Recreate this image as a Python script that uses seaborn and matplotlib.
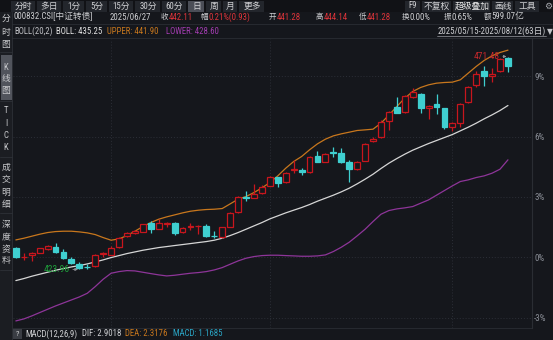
import matplotlib
matplotlib.use("Agg")
import matplotlib.pyplot as plt
import pandas as pd
import seaborn as sns
from matplotlib.patches import Rectangle
from matplotlib.lines import Line2D
from matplotlib import font_manager

sns.set_theme(style="dark")
installed = {f.name for f in font_manager.fontManager.ttflist}
LATIN = [n for n in ("Liberation Sans Narrow", "Roboto Condensed", "DejaVu Sans Condensed")
         if n in installed]
plt.rcParams['font.family'] = LATIN[:1] + ['Noto Sans CJK SC', 'DejaVu Sans']
plt.rcParams['axes.unicode_minus'] = False

# ---- data: 000832.CSI daily bars, 2025/05/15 - 2025/08/12 ----
holidays = ["2025-06-02"]
dates = pd.bdate_range("2025-05-15", "2025-08-12")
dates = dates[~dates.isin(pd.to_datetime(holidays))]

open_ = [428.70, 426.70, 427.20, 427.70, 428.55, 429.05, 427.80, 426.37, 425.19, 424.60,
         424.81, 427.36, 427.20, 428.92, 431.44, 432.05, 432.40, 434.28, 433.07, 434.20,
         434.41, 432.27, 433.50, 433.60, 433.67, 431.50, 431.15, 433.52, 436.73, 440.05,
         439.99, 440.97, 442.67, 444.55, 443.43, 446.20, 446.18, 445.67, 449.31, 448.03,
         450.10, 450.04, 447.90, 446.47, 448.26, 452.59, 453.59, 457.12, 460.18, 459.06,
         462.41, 463.15, 459.96, 460.92, 459.96, 455.71, 456.61, 461.36, 465.16, 468.29,
         467.17, 468.29, 471.12]
high = [428.90, 427.60, 427.80, 428.80, 429.40, 429.80, 428.47, 426.69, 425.57, 425.12,
        427.30, 427.94, 429.21, 431.10, 432.27, 432.78, 434.20, 434.86, 435.17, 434.63,
        434.60, 433.40, 434.28, 433.90, 434.12, 432.56, 433.50, 436.70, 440.30, 441.49,
        443.05, 442.83, 444.80, 444.70, 445.80, 448.41, 446.56, 449.20, 450.49, 449.90,
        451.38, 451.09, 448.41, 448.20, 452.10, 453.48, 457.20, 459.40, 462.41, 462.90,
        464.42, 463.30, 460.60, 463.15, 460.10, 456.80, 461.00, 465.00, 468.35, 469.40,
        468.89, 471.20, 471.48]
low = [426.60, 426.10, 425.90, 427.60, 428.40, 427.70, 426.30, 425.19, 423.96, 424.07,
       424.60, 426.82, 427.10, 428.80, 431.15, 431.82, 432.30, 432.05, 432.90, 433.52,
       431.66, 432.10, 432.78, 431.89, 431.30, 430.93, 431.00, 433.40, 436.60, 439.32,
       439.99, 440.82, 442.50, 442.45, 443.30, 445.44, 445.06, 445.50, 447.90, 447.90,
       449.15, 447.74, 443.57, 446.18, 448.10, 452.40, 453.40, 455.11, 458.80, 458.90,
       462.20, 458.84, 457.50, 458.68, 455.27, 454.95, 455.71, 461.20, 464.65, 465.00,
       465.90, 468.10, 468.13]
close = [426.80, 426.80, 427.60, 428.70, 429.28, 427.80, 426.46, 425.41, 424.37, 424.50,
         427.20, 427.58, 428.69, 430.93, 432.04, 432.60, 434.05, 432.94, 434.28, 434.30,
         432.18, 433.23, 433.60, 433.70, 431.44, 431.40, 433.38, 436.51, 440.08, 439.95,
         440.82, 442.45, 444.55, 443.21, 445.58, 446.30, 445.67, 449.01, 448.03, 449.68,
         450.00, 448.03, 446.34, 448.03, 451.92, 453.03, 456.97, 459.20, 458.97, 462.70,
         463.53, 459.96, 460.47, 460.25, 455.71, 456.61, 460.85, 464.78, 467.55, 467.24,
         467.62, 470.97, 469.47]

# BOLL(20,2) bands
boll_upper = [430.55, 430.92, 431.37, 431.82, 432.19, 432.41, 432.49, 432.49, 432.34, 432.12,
              431.74, 431.07, 430.48, 430.78, 431.52, 432.49, 433.53, 434.42, 435.17, 435.69,
              436.13, 436.58, 436.95, 437.18, 437.33, 437.40, 437.55, 438.59, 439.63, 440.23,
              441.12, 442.16, 443.35, 444.84, 446.55, 448.04, 449.16, 450.65, 451.99, 453.03,
              453.77, 454.22, 454.59, 454.97, 455.11, 455.26, 456.60, 458.39, 460.32, 462.18,
              463.67, 464.57, 465.16, 465.53, 465.68, 465.76, 466.28, 467.77, 469.26, 470.60,
              471.64, 472.38, 472.90]
boll_mid = [421.47, 421.92, 422.44, 422.89, 423.33, 423.78, 424.15, 424.52, 424.82, 425.19,
            425.64, 426.09, 426.61, 427.05, 427.50, 427.87, 428.24, 428.54, 428.84, 429.06,
            429.29, 429.51, 429.73, 429.96, 430.18, 430.48, 430.92, 431.52, 432.19, 432.93,
            433.68, 434.42, 435.24, 435.91, 436.58, 437.18, 437.77, 438.44, 439.19, 439.86,
            440.53, 441.27, 442.09, 443.06, 444.10, 445.21, 446.48, 447.67, 448.71, 449.68,
            450.57, 451.32, 452.06, 452.73, 453.40, 454.07, 454.89, 455.71, 456.60, 457.57,
            458.46, 459.43, 460.55]
boll_lower = [412.47, 412.91, 413.58, 414.33, 415.07, 415.81, 416.48, 417.15, 417.82, 418.64,
              420.13, 421.77, 423.11, 423.48, 423.70, 423.63, 423.33, 423.03, 422.74, 422.51,
              422.66, 422.89, 423.11, 423.26, 423.48, 423.85, 424.37, 425.12, 425.86, 426.46,
              426.83, 427.05, 427.13, 427.13, 427.05, 426.98, 426.90, 426.90, 426.98, 427.20,
              427.95, 428.91, 430.03, 431.45, 432.93, 434.65, 436.28, 437.10, 437.47, 437.70,
              437.99, 438.74, 439.48, 440.53, 441.57, 442.61, 443.58, 443.95, 444.47, 444.84,
              445.44, 446.33, 448.42]

# right-hand percentage scale
pct_ticks = [-3, 0, 3, 6, 9]
pct_base = 426.68     # price at the 0% line
pct_unit = 4.49       # price per 1%

# ---- style ----
BG = "#15171c"
UP = "#c8161d"
DOWN = "#3fcfd0"
TXT = "#cfd0d3"
GRID = "#2c2f37"
HDR_RED = "#e0343a"
ORANGE = "#c8771c"
PURPLE = "#8e3599"
FS = 6.3
FS_CJK = 5.4

W, H = 553, 340
fig = plt.figure(figsize=(W / 100, H / 100), dpi=100, facecolor=BG)


def fx(x):
    return x / W


def fy(y):
    return 1 - y / H


def put(x, y, s, color=TXT, size=FS, ha="left", **kw):
    fig.text(fx(x), fy(y), s, color=color, fontsize=size, ha=ha, va="center", **kw)


def box(x0, y0, x1, y1, color):
    fig.patches.append(Rectangle((fx(x0), fy(y1)), fx(x1) - fx(x0), fy(y0) - fy(y1),
                                 transform=fig.transFigure, facecolor=color,
                                 edgecolor="none", zorder=0))


def hline(x0, x1, y, color, lw=0.6):
    fig.lines.append(Line2D([fx(x0), fx(x1)], [fy(y), fy(y)], transform=fig.transFigure,
                            color=color, lw=lw))


def vline(x, y0, y1, color, lw=0.6):
    fig.lines.append(Line2D([fx(x), fx(x)], [fy(y0), fy(y1)], transform=fig.transFigure,
                            color=color, lw=lw))


# ---- top toolbar ----
box(0, 0, W, 12, "#111216")
left_buttons = [("分时", 11, 36), ("多日", 37, 62), ("1分", 63, 85), ("5分", 86, 108),
                ("15分", 109, 134), ("30分", 135, 161), ("60分", 162, 187),
                ("日", 188, 205), ("周", 206, 222), ("月", 223, 238), ("更多", 239, 265)]
for label, x0, x1 in left_buttons:
    box(x0, 0.5, x1 - 0.8, 11.5, "#4b4e57" if label == "日" else "#23262c")
    put((x0 + x1) / 2, 6, label, ha="center")
right_buttons = [("F9", 405, 421), ("不复权", 422, 452), ("超级叠加", 453, 491),
                 ("画线", 492, 514), ("工具", 515, 540)]
for label, x0, x1 in right_buttons:
    box(x0, 0.5, x1 - 0.8, 11.5, "#23262c")
    put((x0 + x1) / 2, 6, label, ha="center",
        color="#e8e8e8" if label == "超级叠加" else TXT)
put(548, 6, "⚙", size=6.5, ha="center", color="#a8aab0", family=["DejaVu Sans"])

# ---- quote rows ----
hline(12, W, 24, "#2a2d33")
hline(12, W, 38, "#2a2d33")
put(14, 17, "000832.CSI[中证转债]")
put(110, 17, "2025/06/27")
quote = [("收", 160.5, "442.11", HDR_RED), ("幅", 200.5, "0.21%(0.93)", HDR_RED),
         ("开", 268.5, "441.28", HDR_RED), ("高", 315.5, "444.14", HDR_RED),
         ("低", 358.5, "441.28", HDR_RED), ("换", 401.5, "0.00%", TXT),
         ("振", 443.5, "0.65%", TXT), ("额", 483.5, "599.07亿", TXT)]
for name, x, val, c in quote:
    put(x, 17, name, size=FS_CJK)
    put(x + 8.3, 17, val, color=c)

boll_hdr = [("BOLL(20,2)", 14, "#bfc0c4"), ("BOLL: 435.25", 56, "#e2e2e2"),
            ("UPPER: 441.90", 107, ORANGE), ("LOWER: 428.60", 166, "#a23cb0")]
for s, x, c in boll_hdr:
    put(x, 31.5, s, color=c)
put(546, 31.5, "2025/05/15-2025/08/12(63日)", ha="right", color=TXT)
hline(437, 546, 36, "#9a9ca2", lw=0.5)
put(550, 31.5, "▼", size=5.5, ha="center", color="#c0c2c6", family=["DejaVu Sans"])

# ---- left sidebar ----
box(0, 12, 12, H, "#1b1d22")
vline(12.3, 12, H, "#2e3137")
box(0.5, 55, 11.8, 100, "#51545c")
side = [("分", 18), ("时", 32), ("图", 45),
        ("K", 67), ("线", 79), ("图", 91),
        ("T", 111), ("I", 123), ("C", 136), ("K", 148),
        ("成", 167), ("交", 180), ("明", 192), ("细", 205),
        ("深", 225), ("度", 237), ("资", 249), ("料", 261)]
for s, y in side:
    put(6, y, s, ha="center", color="#c8c9cc")
for y in (52, 101, 157, 213, 270):
    hline(0, 12, y, "#2e3137")

# ---- MACD caption ----
hline(12, 532, 328, "#2a2d33")
box(13, 329, 21.5, 339, "#3a3d44")
put(17.2, 334, "?", size=6, ha="center")
macd = [("MACD(12,26,9)", 25, TXT), ("DIF: 2.9018", 82, TXT),
        ("DEA: 2.3176", 125, ORANGE), ("MACD: 1.1685", 173, "#2aa6c6")]
for s, x, c in macd:
    put(x, 334, s, color=c)

# ---- price panel ----
ax = fig.add_axes([fx(13), fy(327.5), fx(532) - fx(13), fy(38.5) - fy(327.5)])
ax.set_facecolor(BG)
ax.set_xlim(-0.36, 65.03)
ax.set_ylim(411.0, 475.5)

idx = list(range(len(dates)))

# month separators
month_starts = [i for i in idx[1:] if dates[i].month != dates[i - 1].month]
for i in month_starts:
    ax.axvline(i, color=GRID, lw=0.7, ls=(0, (1, 2)), zorder=0)
pct_pos = [pct_base + pct_unit * p for p in pct_ticks]
for p in pct_pos:
    ax.axhline(p, color=GRID, lw=0.7, ls=(0, (1, 2)), zorder=0)

# Bollinger bands
bands = pd.DataFrame({
    "i": idx * 3,
    "value": boll_upper + boll_mid + boll_lower,
    "band": ["UPPER"] * len(idx) + ["BOLL"] * len(idx) + ["LOWER"] * len(idx),
})
sns.lineplot(data=bands, x="i", y="value", hue="band", ax=ax, legend=False,
             palette={"UPPER": ORANGE, "BOLL": "#d6d6d6", "LOWER": PURPLE},
             linewidth=0.9, zorder=2)

# candles
body_w = 0.74
for i, o, h, l, c in zip(idx, open_, high, low, close):
    up = c >= o
    col = UP if up else DOWN
    top, bot = max(o, c), min(o, c)
    ax.vlines(i, top, h, color=col, lw=0.9, zorder=3)
    ax.vlines(i, l, bot, color=col, lw=0.9, zorder=3)
    ax.bar(i, top - bot, bottom=bot, width=body_w,
           facecolor=BG if up else DOWN, edgecolor=col, linewidth=0.9, zorder=4)

# extreme labels
imax = high.index(max(high))
imin = low.index(min(low))
arrow = dict(arrowstyle="-|>", color="#8c8e94", lw=0.6, mutation_scale=4,
             shrinkA=0, shrinkB=1)
ax.annotate(f"{high[imax]:.2f}", xy=(imax, high[imax]), xytext=(-6, 0),
            textcoords="offset points", ha="right", va="center", color="#c8282c",
            fontsize=6.8, arrowprops=arrow, zorder=6)
ax.annotate(f"{low[imin]:.2f}", xy=(imin, low[imin]), xytext=(-7, 0),
            textcoords="offset points", ha="right", va="center", color="#1fa33c",
            fontsize=6.8, arrowprops=arrow, zorder=6)

# percentage axis on the right
ax.yaxis.tick_right()
ax.set_yticks(pct_pos)
ax.set_yticklabels([f"{p}%" for p in pct_ticks])
ax.tick_params(axis="y", length=0, pad=1.5, labelsize=6.5, labelcolor="#8a8e96")
ax.set_xticks([])
ax.set_xlabel("")
ax.set_ylabel("")
ax.grid(False)
for name, sp in ax.spines.items():
    sp.set_visible(name == "right")
    sp.set_color("#2a2d33")
    sp.set_linewidth(0.8)

fig.savefig("out.png", dpi=100, facecolor=BG)
